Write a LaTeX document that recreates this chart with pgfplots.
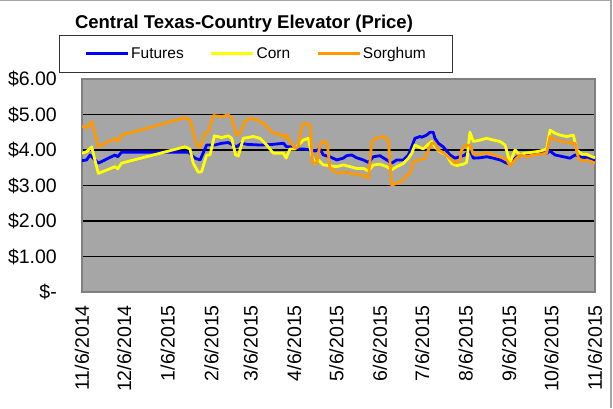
\documentclass[border=0pt]{standalone}
\usepackage{pgfplots}
\pgfplotsset{compat=1.18}
\usepackage{fontspec}
\setmainfont{Liberation Sans}
\definecolor{plotgray}{RGB}{166,166,166}
\definecolor{fut}{RGB}{0,0,255}
\definecolor{corn}{RGB}{255,255,0}
\definecolor{sorg}{RGB}{255,153,0}
\definecolor{framegray}{RGB}{128,128,128}
\begin{document}
\begin{tikzpicture}[x=1pt,y=1pt]
\useasboundingbox (0,0) rectangle (613,408);
\draw[color=gray!70, line width=1.5pt] (0,407.3) -- (611,407.3) -- (611,0);
\node[anchor=base, font=\bfseries\fontsize{18.5}{20}\selectfont] at (244,379) {Central Texas-Country Elevator (Price)};
\begin{axis}[
 at={(82pt,116pt)}, anchor=south west,
 scale only axis, width=513pt, height=213pt,
 xmin=0, xmax=365, ymin=0, ymax=6,
 axis background/.style={fill=plotgray},
 axis line style={draw=framegray, line width=1.6pt},
 ymajorgrids, grid style={black, line width=1.3pt},
 ytick={0,1,2,3,4,5,6},
 yticklabels={\$-\hspace{12pt}, \$1.00, \$2.00, \$3.00, \$4.00, \$5.00, \$6.00},
 xtick={0,30,61,92,120,151,181,212,242,273,304,334,365},
 xticklabels={11/6/2014,12/6/2014,1/6/2015,2/6/2015,3/6/2015,4/6/2015,5/6/2015,6/6/2015,7/6/2015,8/6/2015,9/6/2015,10/6/2015,11/6/2015},
 major tick length=0pt,
 tick style={draw=none},
 ticklabel style={font=\fontsize{19.5}{20}\selectfont, inner sep=0pt},
 xticklabel style={rotate=90, anchor=east},
 yticklabel style={anchor=east},
 xticklabel shift=13pt,
 yticklabel shift=25pt,
 legend columns=3,
 legend style={at={(-0.0448,1.2066)}, anchor=north west, draw=black!80, line width=0.8pt, fill=white,
   font=\fontsize{15.5}{17}\selectfont, inner xsep=25pt, inner ysep=10pt, nodes={inner sep=2pt},
   /tikz/every even column/.append style={column sep=24pt}},
 legend image code/.code={\draw[#1, line width=2.8pt] (0pt,0pt) -- (42pt,0pt);},
]
\addplot[fut, line width=2.8pt, line join=round] coordinates {
(0,3.70)(3.3,3.72)(5.7,3.86)(11.6,3.63)(23.5,3.86)(25.4,3.81)(28.2,3.94)(75.7,3.94)
(80.4,3.77)(84.0,3.72)(88.7,4.14)(94.6,4.14)(99.4,4.19)(104.1,4.21)(106.5,4.16)(110.0,4.09)
(113.6,4.19)(117.2,4.16)(126.7,4.14)(136.1,4.16)(143.3,4.19)(145.6,4.09)(150.4,4.09)(153.9,4.03)
(157.5,4.03)(162.2,4.00)(165.8,3.97)(169.3,4.03)(171.7,3.86)(176.4,3.81)(181.2,3.72)(185.9,3.77)
(188.3,3.84)(191.9,3.86)(195.4,3.78)(200.2,3.72)(203.7,3.65)(207.3,3.81)(212.0,3.84)(216.8,3.72)
(220.3,3.63)(223.9,3.72)(228.6,3.72)(232.2,3.86)(234.6,4.09)(236.9,4.33)(240.5,4.38)(241.7,4.36)
(245.2,4.42)(247.6,4.50)(249.9,4.50)(251.1,4.33)(253.5,4.19)(257.0,4.09)(261.8,3.86)(265.4,3.77)
(268.9,3.81)(272.5,3.86)(276.0,4.00)(278.4,3.77)(283.2,3.78)(287.9,3.81)(292.7,3.77)(297.4,3.72)
(302.2,3.63)(304.5,3.60)(308.1,3.77)(311.6,3.86)(316.4,3.88)(321.1,3.91)(325.9,3.94)(330.6,3.91)
(333.0,3.97)(336.6,3.86)(342.5,3.81)(347.2,3.77)(350.8,3.86)(354.4,3.81)(359.1,3.78)(365,3.72)
};
\addplot[corn, line width=2.8pt, line join=round] coordinates {
(0,3.91)(3.3,3.95)(6.9,4.09)(11.6,3.34)(23.5,3.53)(25.4,3.47)(28.2,3.63)(73.3,4.09)
(76.8,4.03)(79.2,3.62)(82.8,3.37)(85.1,3.39)(88.7,3.86)(91.1,3.86)(94.2,4.40)(99.4,4.35)
(104.1,4.40)(106.5,4.33)(109.3,3.86)(111.2,3.83)(114.8,4.33)(121.9,4.38)(126.7,4.33)(131.4,4.14)
(136.1,3.91)(143.3,3.91)(145.2,3.77)(148.0,4.03)(151.6,4.03)(153.9,4.14)(157.5,4.28)(161.0,4.33)
(163.4,3.86)(165.8,3.63)(168.1,3.72)(171.7,3.58)(176.4,3.56)(181.2,3.53)(185.9,3.58)(190.7,3.53)
(195.4,3.48)(200.2,3.48)(203.7,3.41)(207.3,3.58)(212.0,3.60)(216.8,3.53)(220.3,3.44)(223.9,3.53)
(228.6,3.62)(232.2,3.77)(234.6,3.91)(236.9,4.14)(239.3,4.09)(242.8,4.03)(246.4,4.16)(248.8,4.24)
(251.1,4.09)(254.7,3.95)(259.4,3.86)(263.0,3.62)(266.6,3.56)(271.3,3.60)(273.7,3.65)(276.0,4.50)
(278.4,4.24)(283.2,4.28)(287.9,4.33)(292.7,4.28)(297.4,4.24)(301.0,4.14)(304.5,3.65)(308.1,4.00)
(311.6,3.86)(315.2,3.91)(321.1,3.94)(325.9,3.97)(330.6,4.03)(333.0,4.56)(336.6,4.47)(340.1,4.42)
(344.9,4.38)(349.6,4.42)(352.0,4.00)(355.6,3.88)(359.1,3.88)(362.7,3.81)(365,3.78)
};
\addplot[sorg, line width=2.8pt, line join=round] coordinates {
(0,4.66)(3.3,4.63)(6.9,4.80)(11.6,4.09)(23.5,4.33)(25.4,4.24)(28.2,4.42)(73.3,4.91)
(76.8,4.85)(81.6,4.14)(84.0,4.07)(87.5,4.47)(89.9,4.52)(93.4,4.97)(99.4,4.94)(104.1,4.99)
(106.5,4.89)(110.0,4.42)(112.4,4.47)(116.0,4.80)(119.5,4.89)(124.3,4.85)(129.0,4.75)(136.1,4.47)
(142.1,4.44)(144.5,4.33)(145.6,4.42)(148.0,4.24)(151.6,4.05)(153.9,4.09)(156.3,4.70)(159.8,4.75)
(162.2,4.70)(164.1,3.63)(167.0,3.63)(169.3,4.14)(171.2,4.25)(174.5,4.19)(176.4,3.48)(180.0,3.39)
(183.5,3.34)(185.9,3.39)(190.7,3.34)(195.4,3.32)(197.8,3.30)(202.6,3.25)(203.7,3.20)(206.1,4.19)
(208.5,4.33)(214.4,4.38)(218.0,4.28)(220.3,3.01)(223.9,3.06)(228.6,3.15)(231.0,3.30)(233.4,3.34)
(235.8,3.67)(239.3,3.72)(244.0,3.76)(246.4,4.00)(248.8,4.19)(251.1,4.19)(253.5,4.00)(257.0,3.93)
(261.8,3.77)(265.4,3.63)(268.9,3.72)(270.1,4.00)(272.5,4.12)(276.0,4.14)(278.4,3.88)(283.2,3.88)
(287.9,3.93)(292.7,3.86)(297.4,3.81)(302.2,3.72)(304.5,3.56)(308.1,3.72)(311.6,3.86)(316.4,3.81)
(321.1,3.86)(325.9,3.88)(330.6,3.91)(333.0,4.38)(337.8,4.28)(342.5,4.24)(348.4,4.19)(350.8,4.19)
(353.2,3.77)(355.6,3.69)(359.1,3.72)(362.7,3.67)(365,3.62)
};
\legend{Futures,Corn,Sorghum}
\end{axis}
\end{tikzpicture}
\end{document}
